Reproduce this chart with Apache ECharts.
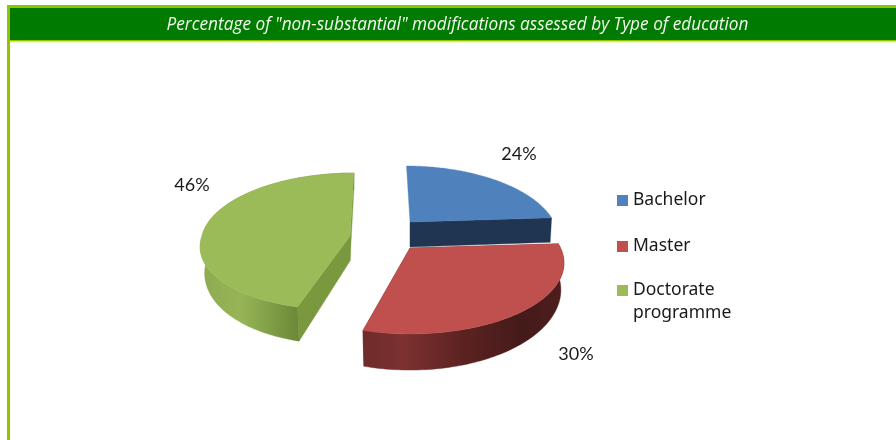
<!DOCTYPE html>
<html>
<head>
<meta charset="utf-8">
<style>html,body{margin:0;padding:0;background:#fff}#c{width:896px;height:440px}</style>
<script src="https://cdn.jsdelivr.net/npm/echarts@6/dist/echarts.min.js"></script>
</head>
<body>
<div id="c"></div>
<script>
const titleText = 'Percentage of "non-substantial" modifications assessed by Type of education';
const categories = ['Bachelor', 'Master', 'Doctorate\nprogramme'];
const values = [24, 30, 46];
const total = values.reduce((a, b) => a + b, 0);

// Look of each exploded 3D slice (perspective projection parameters)
const look = [
  { cx: 410, cy: 222, R: 144, Ry: 67.8, k: 0.211, sb: 0.0625, sf: 0, bx: 0.99,
    top: '#4f81bd', cut: '#1f3552', label: [519, 154] },
  { cx: 410, cy: 248, R: 150.5, Ry: 67.8, k: 0.211, sb: 0, sf: 0, bx: 0.98,
    top: '#c0504d', cut: '#6e2b2a', label: [576, 354],
    wall: [[0, '#6d2c2b'], [0.2, '#7c3130'], [0.5, '#5c2221'], [0.8, '#451a1a'], [1, '#4e1e1d']], wallX: [363, 563] },
  { cx: 350, cy: 236, R: 148, Ry: 67.8, k: 0.0766, sb: -0.063, sf: -0.18, bx: 0.97,
    top: '#9bbb59', cut: '#7a993f', label: [192, 185],
    wall: [[0, '#8eab50'], [0.4, '#97b556'], [1, '#6c8a37']], wallX: [203, 297] }
];

function project(s, deg) {
  const t = deg * Math.PI / 180, u = Math.sin(t), v = -Math.cos(t);
  const p = 1 / (1 - s.k * v);
  const y = s.Ry * v * p;
  const x = s.R * u * p + (y < 0 ? s.sb : s.sf) * y;
  return [x, y];
}
const topPt = (s, x, y) => [s.cx + x, s.cy + y];
const botPt = (s, x, y) => [s.cx + x * s.bx, s.cy + y * 1.13 + 25];

function renderSlice(params, api) {
  const i = params.seriesIndex, s = look[i];
  let before = 0;
  for (let j = 0; j < i; j++) before += values[j];
  const a0 = before / total * 360;
  const a1 = a0 + api.value(0) / total * 360;
  const rimTop = [], rimBot = [];
  for (let n = 0; n <= 90; n++) {
    const [x, y] = project(s, a0 + (a1 - a0) * n / 90);
    rimTop.push(topPt(s, x, y));
    rimBot.push(botPt(s, x, y));
  }
  const cTop = topPt(s, 0, 0), cBot = botPt(s, 0, 0);
  const poly = (points, fill) => ({ type: 'polygon', shape: { points }, style: { fill, stroke: fill, lineWidth: 0.4 } });
  const children = [];
  if (a0 > 0) children.push(poly([cTop, rimTop[0], rimBot[0], cBot], s.cut));
  children.push(poly([cTop, rimTop[90], rimBot[90], cBot], s.cut));
  if (s.wall) {
    const wallFill = new echarts.graphic.LinearGradient(s.wallX[0], 0, s.wallX[1], 0,
      s.wall.map(w => ({ offset: w[0], color: w[1] })), true);
    children.push(poly(rimTop.concat(rimBot.slice().reverse()), wallFill));
  }
  children.push(
    poly([cTop].concat(rimTop), s.top),
    {
      type: 'text',
      style: {
        x: s.label[0], y: s.label[1],
        text: Math.round(api.value(0) / total * 100) + '%',
        fill: '#1a1a1a', font: '18px Lato', align: 'center', verticalAlign: 'middle'
      }
    }
  );
  return { type: 'group', children };
}

const legendPos = [
  { top: 189, height: 11, icon: 'rect' },
  { top: 235, height: 11, icon: 'rect' },
  { top: 279, height: 46, icon: 'path://M0 0h.01v.01zM0 46h.01v.01zM0 6h11v11h-11z' }
];

const chart = echarts.init(document.getElementById('c'), null, { renderer: 'canvas' });
chart.setOption({
  animation: false,
  backgroundColor: '#fff',
  title: {
    text: titleText, left: 452.5, top: 12, textAlign: 'center',
    textStyle: { color: '#f4f9f0', fontFamily: 'Open Sans', fontStyle: 'italic', fontWeight: 'normal', fontSize: 17.25 }
  },
  graphic: [
    { type: 'rect', z: -2, shape: { x: 7, y: 5, width: 889, height: 3 }, style: { fill: '#8ec400' } },
    { type: 'rect', z: -2, shape: { x: 7, y: 5, width: 3, height: 435 }, style: { fill: '#8ec400' } },
    { type: 'rect', z: -1, shape: { x: 10, y: 8, width: 886, height: 32 }, style: { fill: '#007a00' } },
    { type: 'rect', z: -1, shape: { x: 10, y: 40, width: 886, height: 1.5 }, style: { fill: '#8ec400' } },
    { type: 'rect', z: -1, shape: { x: 10, y: 41.5, width: 886, height: 1 }, style: { fill: '#d9eca0' } }
  ],
  legend: categories.map((name, i) => ({
    data: [name], left: 617, top: legendPos[i].top, orient: 'vertical', padding: 0,
    icon: legendPos[i].icon, itemWidth: 11, itemHeight: legendPos[i].height, itemGap: 0,
    selectedMode: false,
    textStyle: { color: '#1a1a1a', fontFamily: 'Noto Sans', fontSize: 17.5, lineHeight: 23, padding: [0, 0, 0, 0] }
  })),
  series: categories.map((name, i) => ({
    type: 'custom', name, coordinateSystem: 'none',
    renderItem: renderSlice,
    itemStyle: { color: look[i].top },
    silent: true,
    data: [[values[i]]]
  }))
});
</script>
</body>
</html>
